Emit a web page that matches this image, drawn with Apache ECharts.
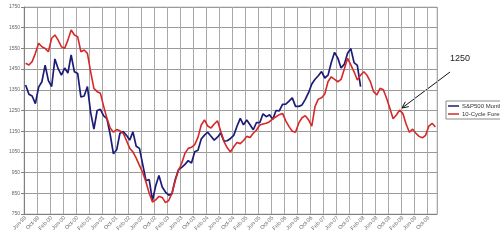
<!DOCTYPE html>
<html><head><meta charset="utf-8">
<script src="https://cdn.jsdelivr.net/npm/echarts@6/dist/echarts.min.js"></script>
<style>html,body{margin:0;padding:0;background:#fff}#c{width:500px;height:247px}</style>
</head><body><div id="c"></div>
<script>
// Month categories Jun-99 .. Dec-09
const MONTH_NAMES = ['Jan','Feb','Mar','Apr','May','Jun','Jul','Aug','Sep','Oct','Nov','Dec'];
const START_YEAR = 1999, START_MONTH = 5, N_MONTHS = 127;
const categories = [];
for (let i = 0; i < N_MONTHS; i++) {
  const m = (START_MONTH + i) % 12;
  const y = START_YEAR + Math.floor((START_MONTH + i) / 12);
  categories.push(MONTH_NAMES[m] + '-' + String(y % 100).padStart(2, '0'));
}

// S&P500 monthly (Jun-99 .. Jan-08)
const sp500 = [1373,1329,1320,1283,1363,1389,1469,
1394,1366,1499,1452,1421,1455,1431,1518,1437,1429,1315,1320,
1366,1240,1160,1250,1256,1224,1211,1134,1041,1060,1140,1148,
1130,1107,1147,1077,1067,990,912,916,815,886,936,880,
856,841,848,917,964,975,990,1008,996,1051,1058,1112,
1131,1145,1126,1107,1121,1141,1102,1104,1115,1130,1174,1212,
1181,1204,1181,1157,1192,1191,1234,1220,1229,1207,1250,1248,
1280,1281,1295,1311,1270,1270,1277,1304,1336,1378,1401,1418,
1438,1407,1421,1482,1531,1503,1455,1474,1527,1549,1481,1468,
1365];

// 10-cycle forecast (Jun-99 .. Dec-09)
const forecast = [1478,1470,1486,1526,1575,1558,1550,1534,1599,1615,1590,1558,1550,1590,1639,1615,1607,1534,1542,1526,1437,1357,1341,1333,1270,1212,1165,
1145,1158,1152,1140,1105,1068,1050,1020,985,950,905,
850,808,818,835,830,805,815,850,910,960,995,1043,1067,1072,
1085,1120,1180,1205,1175,1165,1185,1200,1150,1100,1070,1050,1075,1095,1090,1105,1125,1120,1140,
1156,1180,1185,1188,1196,1210,1220,1230,1236,1200,1172,1150,1145,1190,1215,1225,1205,1175,1270,1305,1312,1330,1390,1413,1400,1389,1400,1450,1502,1470,1437,1397,1421,1437,
1420,1390,1341,1325,1357,1350,1309,1261,1210,1228,1252,1235,1185,1145,1160,1140,1125,1118,1130,1175,1188,1170];

const Y_MIN = 750, Y_MAX = 1750, Y_STEP = 100;
const seriesNames = ['S&P500 Monthly', '10-Cycle Forecast'];
const annotationText = '1250';

const chart = echarts.init(document.getElementById('c'), null, {renderer: 'canvas'});
const font = 'Liberation Sans, Arial, sans-serif';
chart.setOption({
  animation: false,
  backgroundColor: '#fff',
  textStyle: {fontFamily: font},
  grid: {left: 24, right: 63, top: 7, bottom: 33, containLabel: false, outerBoundsMode: 'none',
         show: true, borderColor: '#c8c8c8', borderWidth: 1},
  legend: {
    orient: 'vertical', left: 446, top: 101,
    data: seriesNames, icon: 'rect', itemWidth: 11, itemHeight: 1.5, itemGap: 2,
    padding: [2, 3, 2, 2],
    borderColor: '#8a8a8a', borderWidth: 1, backgroundColor: '#fff',
    textStyle: {fontSize: 6, color: '#333', fontFamily: font, padding: [0,0,0,-2]}
  },
  xAxis: {
    type: 'category', data: categories, boundaryGap: true,
    axisLine: {lineStyle: {color: '#808080', width: 1}},
    axisTick: {interval: 3, length: 3, lineStyle: {color: '#808080'}},
    axisLabel: {interval: 3, rotate: 45, fontSize: 5.5, color: '#666', margin: 3, fontFamily: font},
    splitLine: {show: true, interval: 3, lineStyle: {color: '#a8a8a8', width: 1}}
  },
  yAxis: {
    type: 'value', min: Y_MIN, max: Y_MAX, interval: Y_STEP,
    axisLine: {show: true, lineStyle: {color: '#808080', width: 1}},
    axisTick: {show: true, length: 3, lineStyle: {color: '#808080'}},
    axisLabel: {fontSize: 5, color: '#666', margin: 4, fontFamily: font, formatter: v => String(v)},
    splitLine: {show: true, lineStyle: {color: '#9a9a9a', width: 1}}
  },
  series: [
    {name: seriesNames[0], type: 'line', data: sp500, showSymbol: false, symbol: 'none',
     lineStyle: {color: '#1c1c78', width: 1.7}, itemStyle: {color: '#1c1c78'}},
    {name: seriesNames[1], type: 'line', data: forecast, showSymbol: false, symbol: 'none',
     lineStyle: {color: '#d62828', width: 1.6}, itemStyle: {color: '#d62828'}}
  ],
  graphic: [
    {type: 'text', left: 450, top: 54, style: {text: annotationText, fontSize: 9, fill: '#222', fontFamily: font}},
    {type: 'line', shape: {x1: 450, y1: 72, x2: 402, y2: 108}, style: {stroke: '#111', lineWidth: 1}},
    {type: 'polyline', shape: {points: [[408.8, 106.6], [402, 108], [405.3, 101.8]]}, style: {stroke: '#111', lineWidth: 1, fill: null}}
  ]
});
</script>
</body></html>
